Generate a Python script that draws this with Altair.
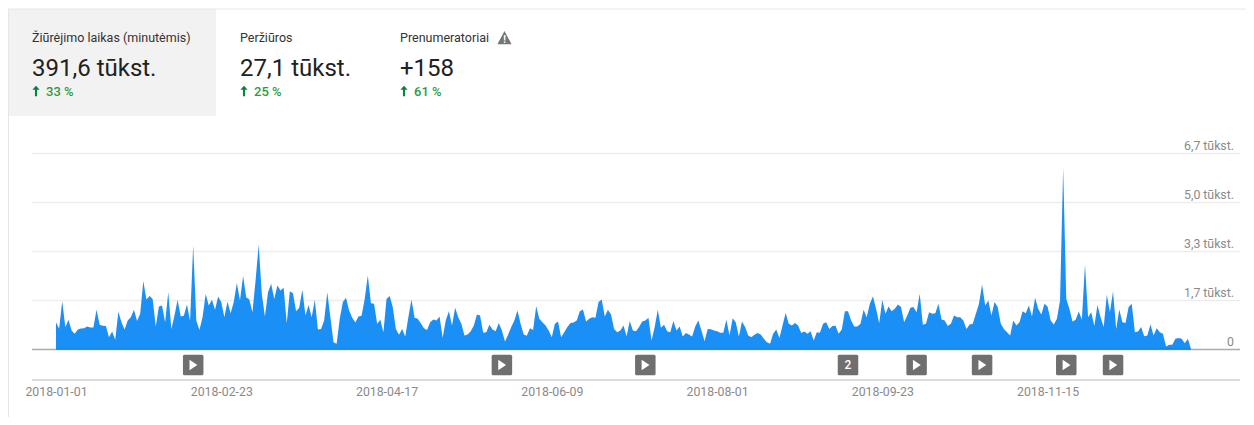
import altair as alt
import pandas as pd

ALL_DAYS = pd.date_range("2018-01-01", "2018-12-31", freq="D").strftime("%Y-%m-%d").tolist()

minutes = [
 935,707,1650,760,1015,650,535,685,720,730,790,755,755,1355,845,810,800,420,615,330,
 1290,935,685,990,1105,1355,970,1220,2340,1710,1825,1730,790,1470,1505,935,1960,705,1160,1700,
 1130,1150,1540,970,3560,990,670,1105,1900,1505,1700,1355,1810,1620,1105,1640,1240,1620,2270,1675,
 2510,1790,1710,1275,2360,3580,1900,1130,1960,2245,1730,2190,2020,2110,900,1995,1925,1310,1425,2040,
 1160,1525,1105,1700,685,705,990,1960,1105,250,195,1050,1620,1770,1335,1085,925,1130,1150,1730,
 2530,1585,1560,880,1015,590,1730,1825,1450,705,500,705,445,1105,1710,1085,1050,900,730,670,
 935,1025,990,1130,400,990,1310,820,1425,1105,880,480,515,625,820,1195,1160,570,590,845,
 685,625,910,650,275,515,765,990,1335,880,515,470,730,670,1480,1050,935,820,650,420,
 880,960,420,590,765,910,925,990,1310,1370,960,1050,1105,1085,1620,1710,1130,1355,1200,705,
 590,650,820,455,970,650,625,765,960,990,1085,310,765,1355,740,845,625,590,970,650,
 785,445,560,515,445,785,990,650,285,705,695,650,625,570,570,1015,480,1070,935,445,
 960,765,480,420,500,560,515,365,250,195,535,685,390,820,1245,880,820,910,820,560,
 615,535,625,310,590,570,880,935,705,800,810,535,685,1310,1310,990,785,785,880,1355,
 1105,1560,1810,1390,900,1700,1220,1470,1310,1390,1540,1450,935,1160,1425,1450,1275,1905,845,880,
 1275,1220,1240,1560,1025,990,800,880,1160,1105,1105,990,705,855,880,1220,1560,2220,1505,1675,
 1160,1620,1450,880,705,590,480,990,820,935,1310,1240,1505,1130,1765,1390,1195,1560,1470,990,
 855,1050,1675,6210,1730,1390,960,1015,1300,1015,2905,1105,1275,800,1525,1105,765,1870,1275,1985,
 705,1370,935,910,1450,1560,590,615,765,455,480,855,480,730,590,535,105,160,160,365,
 390,365,215,365,20,
]

y_ticks = [0, 1675, 3350, 5025, 6700]
y_labels = ["0", "1,7 tūkst.", "3,3 tūkst.", "5,0 tūkst.", "6,7 tūkst."]
x_label_dates = ["2018-01-01", "2018-02-23", "2018-04-17", "2018-06-09", "2018-08-01", "2018-09-23", "2018-11-15"]
video_dates = ["2018-02-14", "2018-05-24", "2018-07-09", "2018-10-04", "2018-10-25", "2018-11-21", "2018-12-06"]
group_dates = ["2018-09-12"]
group_labels = ["2"]

tab_titles = ["Žiūrėjimo laikas (minutėmis)", "Peržiūros", "Prenumeratoriai"]
tab_values = ["391,6 tūkst.", "27,1 tūkst.", "+158"]
tab_changes = ["33 %", "25 %", "61 %"]

W, H = 1238, 409
OX, OY = 8, 8  # page margin

x_scale = alt.Scale(domain=["2018-01-01", "2018-12-31"], range=[48, 1183])
y_scale = alt.Scale(domain=[0, 6700], range=[341.5, 145.5])
X = alt.X("date:T", scale=x_scale, axis=None)
Y = alt.Y("v:Q", scale=y_scale, axis=None)

series = pd.DataFrame({"date": ALL_DAYS, "v": minutes})
ticks = pd.DataFrame({"v": y_ticks, "label": y_labels})
xlabels = pd.DataFrame({"date": x_label_dates, "label": x_label_dates})
videos = pd.DataFrame({"date": video_dates})
groups = pd.DataFrame({"date": group_dates, "label": group_labels})
all_markers = pd.DataFrame({"date": video_dates + group_dates})
one = pd.DataFrame({"a": [0]})


def px(x):
    return alt.value(x - OX)


def py(y):
    return alt.value(y - OY)


def label(text, x, y, size, color, weight="normal"):
    return alt.Chart(one).mark_text(
        text=text, font="Roboto", fontSize=size, color=color, align="left",
        baseline="alphabetic", fontWeight=weight,
    ).encode(x=px(x), y=py(y))


panel = alt.Chart(one).mark_rect(color="#f2f2f2").encode(x=px(8), x2=px(216), y=py(9), y2=py(116))
top_border = alt.Chart(one).mark_rule(color="#e6e6e6").encode(x=px(8), x2=px(1246), y=py(9))
left_border = alt.Chart(one).mark_rule(color="#e6e6e6", strokeWidth=2).encode(x=px(8), y=py(9), y2=py(417))

grid = alt.Chart(ticks[ticks.v > 0]).mark_rule(color="#ededed", strokeWidth=1.5).encode(
    y=Y, x=px(32), x2=px(1240))
area = alt.Chart(series).mark_area(color="#1a90f6", interpolate="linear").encode(x=X, y=Y)
base = alt.Chart(ticks[ticks.v == 0]).mark_rule(color="#000000", opacity=0.33, strokeWidth=1.5).encode(
    y=Y, x=px(32), x2=px(1240))
y_text = alt.Chart(ticks).mark_text(
    font="Roboto", fontSize=12.3, color="#8a8a8a", align="right", baseline="alphabetic", dy=-4
).encode(y=Y, x=px(1234), text="label:N")

bottom_line = alt.Chart(one).mark_rule(color="#dcdcdc", strokeWidth=2).encode(x=px(32), x2=px(1240), y=py(380))
x_text = alt.Chart(xlabels).mark_text(
    font="Roboto", fontSize=12.3, color="#8a8a8a", align="center", baseline="alphabetic", dx=0.5
).encode(x=X, y=py(396), text="label:N")

ROUNDED = ("M-0.85,-1 L0.85,-1 Q1,-1 1,-0.85 L1,0.85 Q1,1 0.85,1 L-0.85,1 "
           "Q-1,1 -1,0.85 L-1,-0.85 Q-1,-1 -0.85,-1 Z")
marker_box = alt.Chart(all_markers).mark_point(
    shape=ROUNDED, filled=True, color="#6f6f6f", opacity=1, size=420
).encode(x=X, y=py(365))
marker_play = alt.Chart(videos).mark_point(
    shape="M-0.7,-1 L0.8,0 L-0.7,1 Z", filled=True, color="#ffffff", opacity=1, size=110
).encode(x=X, y=py(365))
marker_num = alt.Chart(groups).mark_text(
    font="Roboto", fontSize=12, color="#ffffff", align="center", baseline="middle", fontWeight=500
).encode(x=X, y=py(365), text="label:N")

tab_layers = []
for col_x, title_text, value_text, change_text in zip([32, 240, 400], tab_titles, tab_values, tab_changes):
    tab_layers.append(label(title_text, col_x, 42, 12.5, "#333333"))
    tab_layers.append(label(value_text, col_x, 76, 24, "#212121"))
    tab_layers.append(label(change_text, col_x + 14, 96, 13, "#2e9b3e", 500))
    tab_layers.append(
        alt.Chart(one).mark_point(
            shape="M0,-1 L0.7,-0.25 L0.2,-0.25 L0.2,1 L-0.2,1 L-0.2,-0.25 L-0.7,-0.25 Z",
            filled=True, color="#0b8043", opacity=1, size=110,
        ).encode(x=px(col_x + 4), y=py(91))
    )

warn = alt.Chart(one).mark_point(
    shape="M0,-1 L1,0.9 L-1,0.9 Z", filled=True, color="#757575", opacity=1, size=200
).encode(x=px(504.5), y=py(38))
warn_mark = alt.Chart(one).mark_text(
    text="!", font="Roboto", fontSize=10, fontWeight="bold", color="#ffffff", align="center", baseline="middle"
).encode(x=px(504.5), y=py(39.5))

chart = alt.layer(
    panel, top_border, left_border, grid, area, base, y_text, bottom_line, x_text,
    marker_box, marker_play, marker_num, *tab_layers, warn, warn_mark,
).properties(
    width=W, height=H, padding=0,
    autosize=alt.AutoSizeParams(type="none"),
).configure_view(stroke=None)

chart.save("out.html", embed_options={"renderer": "svg", "actions": False})
